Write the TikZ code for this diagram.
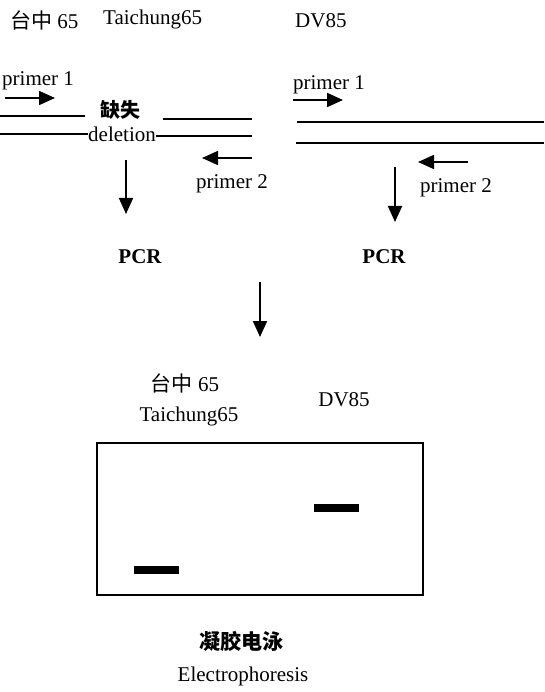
\documentclass[tikz,border=0pt]{standalone}
\usepackage{fontspec}
\setmainfont{Liberation Serif}
\newfontfamily\cjk{Noto Sans CJK SC}
\usetikzlibrary{arrows.meta}

\begin{document}
\begin{tikzpicture}[x=1pt, y=-1pt,
  lbl/.style={font=\fontsize{21}{24}\selectfont, inner sep=0pt},
  cjklbl/.style={font=\fontsize{20}{24}\selectfont\cjk, inner sep=0pt},
  pcr/.style={font=\fontsize{21}{24}\selectfont\bfseries, inner sep=0pt},
  strand/.style={line width=2pt},
  arrow/.style={-{Triangle[length=16pt,width=14pt]}, line width=1.8pt},
  band/.style={fill=black, minimum width=45pt, minimum height=8pt, inner sep=0pt},
]
\useasboundingbox (0,0) rectangle (544,692);

% Strain names across the top
\node[lbl, anchor=west] (tcnameL) at (10,20) {{\cjk 台中} 65};
\node[lbl, anchor=west] (tcname) at (103,19) {Taichung65};
\node[lbl, anchor=west] (dvname) at (295,21) {DV85};

% === Taichung65 template with the deletion ===
\node[lbl, anchor=west] (p1L) at (2,81) {primer 1};
\coordinate (p1Ls) at (5,98);
\coordinate (p1Le) at (55,98);
\draw[arrow] (p1Ls) -- (p1Le);

\node[cjklbl, font=\fontsize{20}{24}\selectfont\cjk\bfseries] (gapzh) at (120,110) {缺失};
\node[lbl] (gapen) at (122,134) {deletion};

\coordinate (topL1) at (0,116);
\coordinate (topL2) at (85,116);
\coordinate (topR1) at (163,119);
\coordinate (topR2) at (252,119);
\draw[strand] (topL1) -- (topL2);
\draw[strand] (topR1) -- (topR2);

\coordinate (botL1) at (0,134);
\coordinate (botL2) at (252,136);
\draw[strand] (botL1) -- (gapen.west);
\draw[strand] (gapen.east |- botL2) -- (botL2);

\coordinate (p2Ls) at (252,158);
\coordinate (p2Le) at (202,158);
\draw[arrow] (p2Ls) -- (p2Le);
\node[lbl] (p2L) at (232,184) {primer 2};

\coordinate (downLs) at (126,160);
\coordinate (downLe) at (126,214);
\draw[arrow] (downLs) -- (downLe);
\node[pcr] (pcrL) at (140,257) {PCR};

% === DV85 template, intact ===
\node[lbl] (p1R) at (329,85) {primer 1};
\coordinate (p1Rs) at (293,100);
\coordinate (p1Re) at (343,100);
\draw[arrow] (p1Rs) -- (p1Re);

\coordinate (topD1) at (297,122);
\coordinate (topD2) at (544,122);
\coordinate (botD1) at (296,143);
\coordinate (botD2) at (544,143);
\draw[strand] (topD1) -- (topD2);
\draw[strand] (botD1) -- (botD2);

\coordinate (p2Rs) at (468,162);
\coordinate (p2Re) at (418,162);
\draw[arrow] (p2Rs) -- (p2Re);
\node[lbl] (p2R) at (456,188) {primer 2};

\coordinate (downRs) at (395,167);
\coordinate (downRe) at (395,222);
\draw[arrow] (downRs) -- (downRe);
\node[pcr] (pcrR) at (384,257) {PCR};

% === to the gel ===
\coordinate (gelin) at (260,282);
\coordinate (gelout) at (260,337);
\draw[arrow] (gelin) -- (gelout);

\node[lbl] (laneTCzh) at (185,383) {{\cjk 台中} 65};
\node[lbl] (laneTC) at (189,416) {Taichung65};
\node[lbl] (laneDV) at (344,400) {DV85};

\node[draw, line width=2pt, minimum width=326pt, minimum height=152pt, inner sep=0pt] (gel) at (260,519) {};
\node[band] (bandTC) at (156,570) {};
\node[band] (bandDV) at (336,508) {};

\node[cjklbl, font=\fontsize{21}{24}\selectfont\cjk\bfseries] (gelzh) at (241,641) {凝胶电泳};
\node[lbl] (gelen) at (243,676) {Electrophoresis};

\end{tikzpicture}
\end{document}
